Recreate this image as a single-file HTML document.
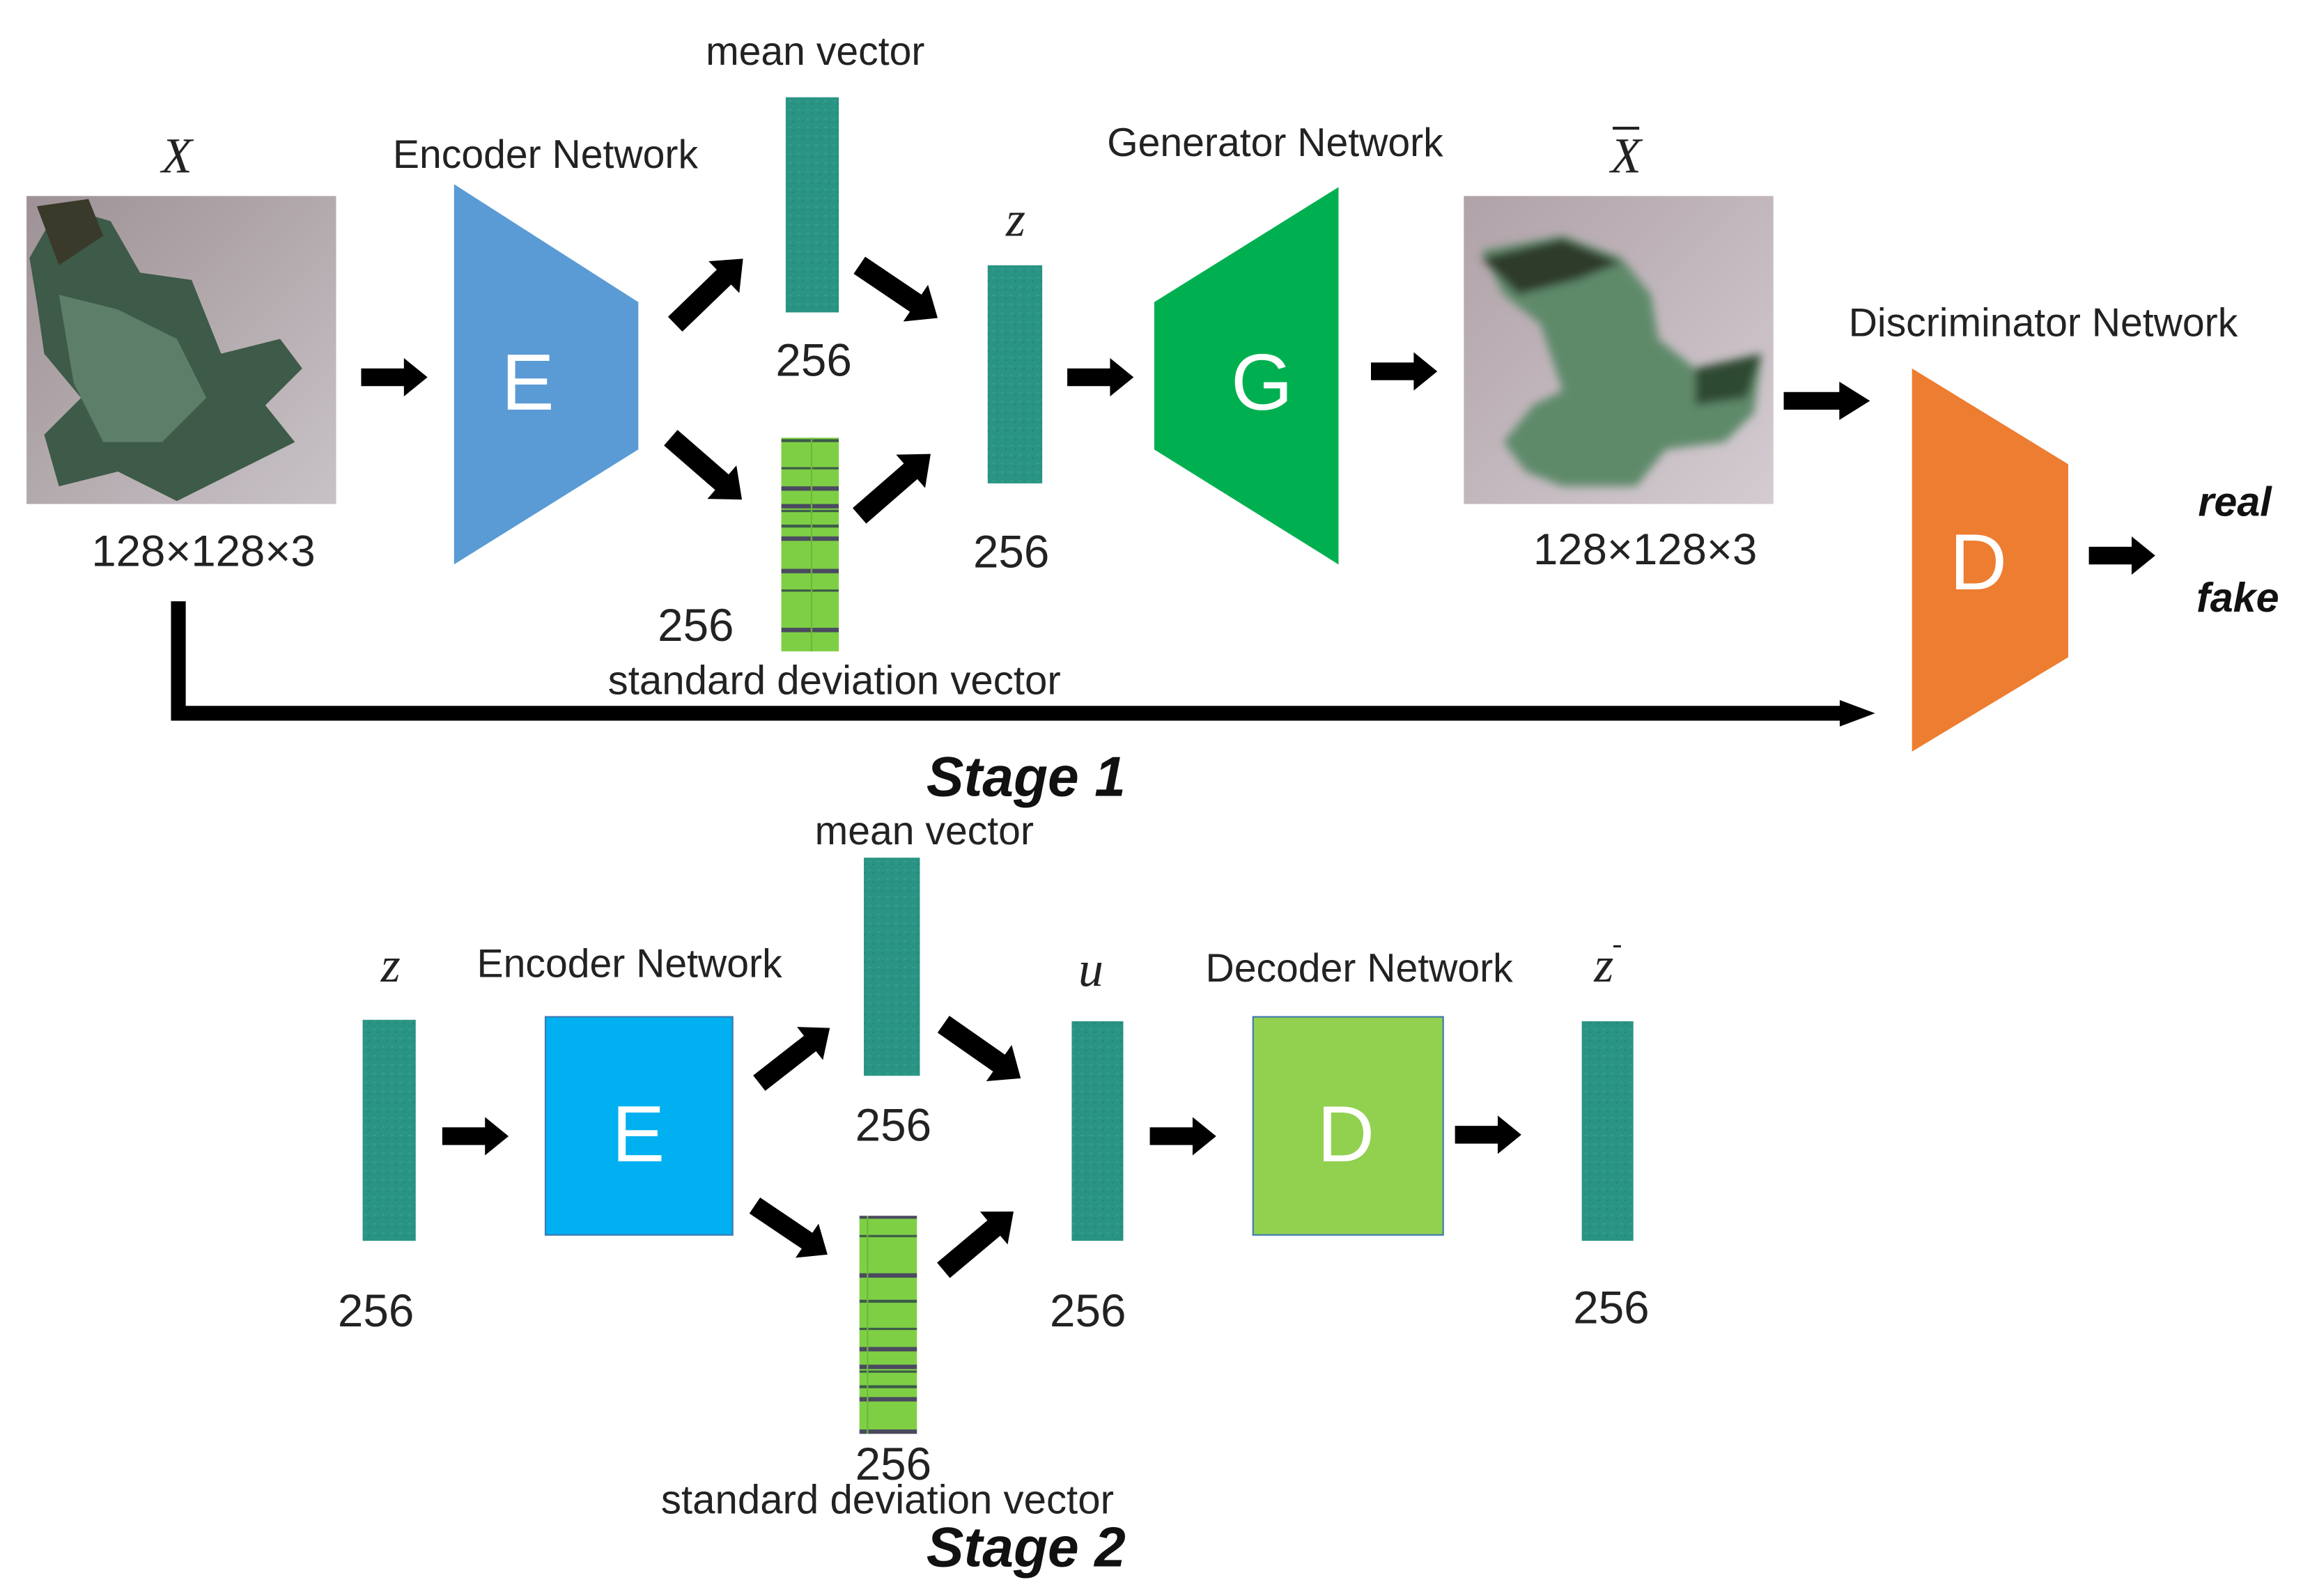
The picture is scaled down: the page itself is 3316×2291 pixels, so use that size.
<!DOCTYPE html>
<html><head><meta charset="utf-8"><style>
html,body{margin:0;padding:0;background:#fff;}
svg{display:block;}
text{font-family:"Liberation Sans",sans-serif;fill:#222;}
.lbl{font-size:27px;}
.sd{font-size:27.5px;}
.num{font-size:31px;}
.dim{font-size:30px;}
.it{font-family:"Liberation Serif",serif;font-style:italic;font-size:34px;}
.st{font-weight:bold;font-style:italic;font-size:38px;fill:#111;}
.big{font-size:54px;fill:#fff;}
</style></head><body>
<svg width="3316" height="2291" viewBox="0 0 1567 1083" preserveAspectRatio="none" xmlns="http://www.w3.org/2000/svg">
<defs>
<path id="ar" d="M0,-6H29V-13L45,0L29,13V6H0Z" fill="#000"/>
<path id="ad" d="M0,-7H46V-15L64,0L46,15V7H0Z" fill="#000"/>
<pattern id="noise" width="6" height="6" patternUnits="userSpaceOnUse">
<rect width="6" height="6" fill="#2a9484"/><rect x="1" y="2" width="2" height="1" fill="#33a08a"/><rect x="4" y="4" width="1" height="1" fill="#248070"/></pattern>
<pattern id="stripes" width="38" height="146" patternUnits="userSpaceOnUse">
<rect width="38" height="146" fill="#7fcf45"/>
<rect y="6" width="38" height="2" fill="#3c5a48"/><rect y="25" width="38" height="1.5" fill="#3c5a48"/>
<rect y="38" width="38" height="3" fill="#4a4a60"/><rect y="50" width="38" height="3" fill="#4a4a60"/>
<rect y="54" width="38" height="1.5" fill="#3c5a48"/><rect y="64" width="38" height="2" fill="#3c5a48"/>
<rect y="72" width="38" height="3" fill="#4a4a60"/><rect y="94" width="38" height="3" fill="#4a4a60"/>
<rect y="108" width="38" height="1.5" fill="#3c5a48"/><rect y="134" width="38" height="3" fill="#4a4a60"/>
<rect x="18" width="1" height="146" fill="#6cb83a"/></pattern>
<linearGradient id="bg1" x1="0" y1="0" x2="1" y2="1"><stop offset="0" stop-color="#9e9296"/><stop offset="1" stop-color="#c8c2c6"/></linearGradient>
<linearGradient id="bg2" x1="0" y1="0" x2="1" y2="1"><stop offset="0" stop-color="#b0a2a8"/><stop offset="1" stop-color="#d4ccd2"/></linearGradient>
<filter id="bl"><feGaussianBlur stdDeviation="3"/></filter>
</defs>

<!-- Stage 1 -->
<text class="it" x="120" y="117" text-anchor="middle">X</text>
<rect x="18" y="133" width="210" height="209" fill="url(#bg1)"/>
<path d="M20,175 L40,140 L75,150 L95,185 L130,190 L150,240 L190,230 L205,250 L180,275 L200,300 L160,320 L120,340 L80,320 L40,330 L30,295 L55,270 L30,240 L25,205Z" fill="#3e5a48"/>
<path d="M40,200 L80,210 L120,230 L140,270 L110,300 L70,300 L50,260Z" fill="#5d7e68"/>
<path d="M25,140 L60,135 L70,160 L40,180Z" fill="#3a3a2a"/>
<text class="dim" x="138" y="384" text-anchor="middle">128×128×3</text>

<use href="#ar" x="245" y="256"/>
<text class="lbl" x="370" y="114" text-anchor="middle">Encoder Network</text>
<polygon points="308,125 433,205 433,305 308,383" fill="#5b9bd5"/>
<text class="big" x="358" y="278" text-anchor="middle">E</text>

<use href="#ad" transform="translate(458,220) rotate(-44)"/>
<use href="#ad" transform="translate(455,297) rotate(41)"/>

<text class="lbl" x="553" y="44" text-anchor="middle">mean vector</text>
<rect x="533" y="66" width="36" height="146" fill="url(#noise)"/>
<text class="num" x="552" y="255" text-anchor="middle">256</text>

<rect x="530" y="297" width="39" height="145" fill="url(#stripes)"/>
<text class="num" x="472" y="435" text-anchor="middle">256</text>
<text class="sd" x="566" y="471" text-anchor="middle">standard deviation vector</text>

<use href="#ad" transform="translate(583,180) rotate(34)"/>
<use href="#ad" transform="translate(583,350) rotate(-41)"/>

<text class="it" x="689" y="160" text-anchor="middle">z</text>
<rect x="670" y="180" width="37" height="148" fill="url(#noise)"/>
<text class="num" x="686" y="385" text-anchor="middle">256</text>

<use href="#ar" x="724" y="256"/>
<text class="lbl" x="865" y="106" text-anchor="middle">Generator Network</text>
<polygon points="783,205 908,127 908,383 783,305" fill="#00b050"/>
<text class="big" x="856" y="278" text-anchor="middle">G</text>

<use href="#ar" x="930" y="252"/>
<text class="it" x="1103" y="117" text-anchor="middle">X</text>
<rect x="1094" y="86" width="18" height="2" fill="#222"/>
<rect x="993" y="133" width="210" height="209" fill="url(#bg2)"/>
<g filter="url(#bl)">
<path d="M1005,170 L1060,160 L1100,175 L1120,200 L1125,230 L1150,250 L1195,240 L1190,280 L1170,300 L1130,305 L1110,330 L1060,330 L1035,320 L1020,300 L1040,275 L1060,265 L1045,220 L1020,200Z" fill="#5e8a6a"/>
<path d="M1005,175 L1060,162 L1100,178 L1070,190 L1030,200Z" fill="#2e3a2c"/>
<path d="M1150,250 L1195,240 L1185,270 L1150,275Z" fill="#2f4a33"/>
</g>
<text class="dim" x="1116" y="383" text-anchor="middle">128×128×3</text>

<text class="lbl" x="1386" y="228" text-anchor="middle">Discriminator  Network</text>
<use href="#ar" transform="translate(1210,272) scale(1.3,1)"/>
<polygon points="1297,250 1403,315 1403,446 1297,510" fill="#ed7d31"/>
<text class="big" x="1342" y="400" text-anchor="middle">D</text>
<use href="#ar" x="1417" y="377"/>
<text class="st" x="1516" y="350" text-anchor="middle" style="font-size:28px">real</text>
<text class="st" x="1518" y="415" text-anchor="middle" style="font-size:28px">fake</text>

<path d="M121,408 V484 H1250" fill="none" stroke="#000" stroke-width="10"/>
<path d="M1248,475 L1272,484 L1248,493Z" fill="#000"/>
<text class="st" x="696" y="540" text-anchor="middle">Stage  1</text>

<!-- Stage 2 -->
<text class="it" x="265" y="666" text-anchor="middle">z</text>
<rect x="246" y="692" width="36" height="150" fill="url(#noise)"/>
<text class="num" x="255" y="900" text-anchor="middle">256</text>
<use href="#ar" x="300" y="771"/>
<text class="lbl" x="427" y="663" text-anchor="middle">Encoder Network</text>
<rect x="370" y="690" width="127" height="148" fill="#00b0f0" stroke="#3a78b0" stroke-width="1"/>
<text class="big" x="433" y="788" text-anchor="middle">E</text>

<use href="#ad" transform="translate(515,735) rotate(-38) scale(0.95)"/>
<use href="#ad" transform="translate(512,818) rotate(34) scale(0.93)"/>

<text class="lbl" x="627" y="573" text-anchor="middle">mean vector</text>
<rect x="586" y="582" width="38" height="148" fill="url(#noise)"/>
<text class="num" x="606" y="774" text-anchor="middle">256</text>
<rect x="583" y="825" width="39" height="148" fill="url(#stripes)"/>
<text class="num" x="606" y="1004" text-anchor="middle">256</text>
<text class="sd" x="602" y="1027" text-anchor="middle">standard deviation vector</text>

<use href="#ad" transform="translate(640,695) rotate(35)"/>
<use href="#ad" transform="translate(640,862) rotate(-40) scale(0.97)"/>

<text class="it" x="740" y="669" text-anchor="middle">u</text>
<rect x="727" y="693" width="35" height="149" fill="url(#noise)"/>
<text class="num" x="738" y="900" text-anchor="middle">256</text>
<use href="#ar" x="780" y="771"/>
<text class="lbl" x="922" y="666" text-anchor="middle">Decoder Network</text>
<rect x="850" y="690" width="129" height="148" fill="#92d050" stroke="#3a78b0" stroke-width="1"/>
<text class="big" x="913" y="788" text-anchor="middle">D</text>
<use href="#ar" x="987" y="770"/>
<text class="it" x="1088" y="666" text-anchor="middle">z</text>
<text class="it" x="1097" y="647" text-anchor="middle" style="font-size:20px">-</text>
<rect x="1073" y="693" width="35" height="149" fill="url(#noise)"/>
<text class="num" x="1093" y="898" text-anchor="middle">256</text>
<text class="st" x="696" y="1063" text-anchor="middle">Stage  2</text>
</svg>
</body></html>
